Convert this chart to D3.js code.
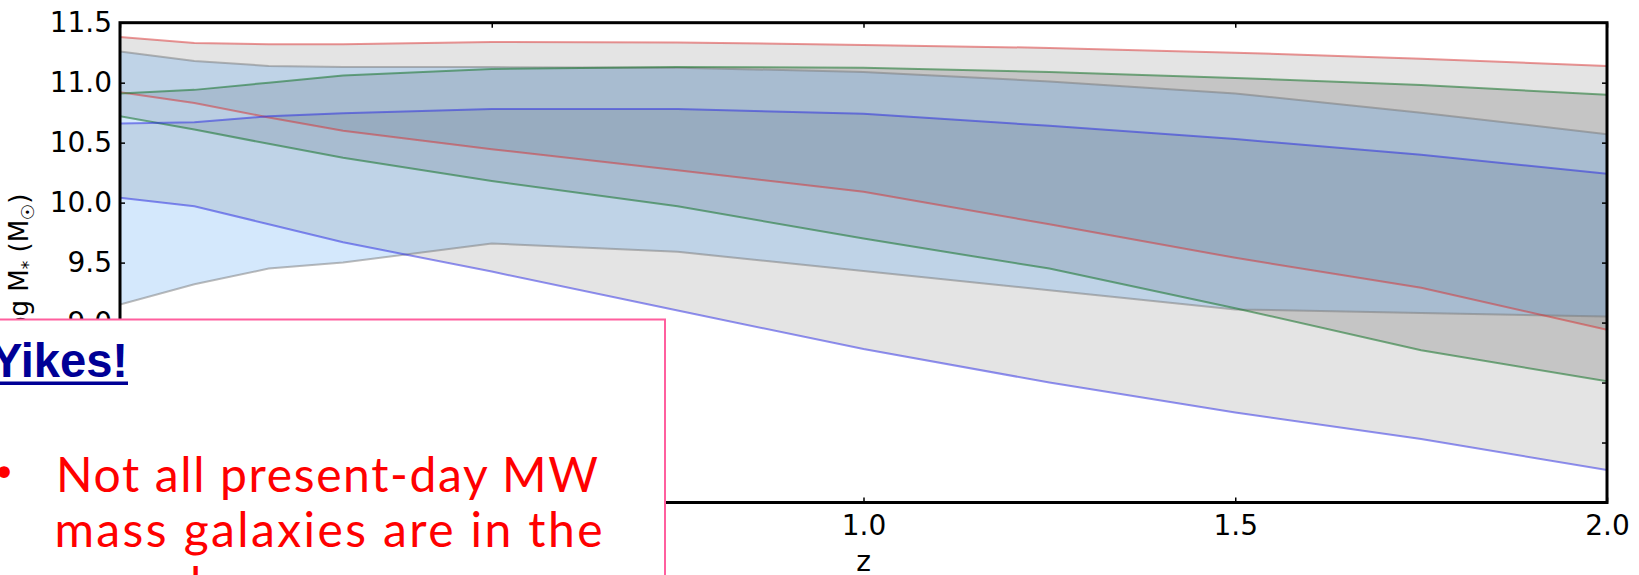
<!DOCTYPE html>
<html>
<head>
<meta charset="utf-8">
<script src="https://cdn.jsdelivr.net/npm/d3@7"></script>
<style>
  html, body { margin: 0; padding: 0; background: #fff; overflow: hidden; }
  svg { display: block; }
</style>
</head>
<body>
<svg id="chart" width="1639" height="575"></svg>
<script>
// Redshift grid shared by every band
const redshift = [0, 0.1, 0.2, 0.3, 0.5, 0.75, 1.0, 1.25, 1.5, 1.75, 2.0];

// Progenitor stellar-mass ranges (log M*), three selections
const redUpper   = [11.38, 11.33, 11.32, 11.32, 11.34, 11.335, 11.315, 11.29, 11.25, 11.20, 11.14];
const redLower   = [10.92, 10.83, 10.71, 10.60, 10.445, 10.27, 10.09, 9.82, 9.54, 9.29, 8.94];
const greenUpper = [10.91, 10.94, 11.00, 11.06, 11.115, 11.13, 11.125, 11.09, 11.04, 10.98, 10.90];
const greenLower = [10.72, 10.61, 10.49, 10.375, 10.18, 9.97, 9.70, 9.45, 9.12, 8.77, 8.51];
const blueUpper  = [10.66, 10.67, 10.72, 10.745, 10.78, 10.78, 10.74, 10.64, 10.53, 10.40, 10.24];
const blueLower  = [10.04, 9.97, 9.82, 9.67, 9.425, 9.10, 8.78, 8.50, 8.25, 8.03, 7.77];

// Sample selection window
const sampleUpper = [11.26, 11.18, 11.14, 11.13, 11.13, 11.125, 11.09, 11.01, 10.91, 10.75, 10.57];
const sampleLower = [9.15, 9.32, 9.45, 9.50, 9.66, 9.59, 9.43, 9.27, 9.11, 9.08, 9.05];

// Axis ticks
const xTicks = [0, 0.5, 1.0, 1.5, 2.0];
const yTicks = [7.5, 8.0, 8.5, 9.0, 9.5, 10.0, 10.5, 11.0, 11.5];

// Callout text
const noteTitle = "Yikes!";
const noteLines = ["Not all present-day MW", "mass galaxies are in the", "sample"];

const svg = d3.select("#chart");
const plot = { left: 120, right: 1607, top: 22.7, bottom: 502.5 };

const x = d3.scaleLinear().domain([0, 2]).range([plot.left, plot.right]);
const y = d3.scaleLinear().domain([7.5, 11.5]).range([plot.bottom, plot.top]);

svg.append("rect").attr("width", 1639).attr("height", 575).attr("fill", "#fff");

svg.append("defs").append("clipPath").attr("id", "plotClip")
  .append("rect")
  .attr("x", plot.left).attr("y", plot.top)
  .attr("width", plot.right - plot.left).attr("height", plot.bottom - plot.top);

const g = svg.append("g").attr("clip-path", "url(#plotClip)");

function band(lo, hi) {
  return redshift.map((z, i) => ({ z, lo: lo[i], hi: hi[i] }));
}
const area = d3.area().x(d => x(d.z)).y0(d => y(d.lo)).y1(d => y(d.hi));
const line = (key) => d3.line().x(d => x(d.z)).y(d => y(d[key]));

// Grey shaded progenitor ranges
const bands = [
  { data: band(redLower, redUpper),     op: 0.105, color: "rgba(215,45,45,0.5)" },
  { data: band(greenLower, greenUpper), op: 0.135, color: "rgba(20,115,40,0.55)" },
  { data: band(blueLower, blueUpper),   op: 0.105, color: "rgba(35,35,225,0.5)" }
];
bands.forEach(b => {
  g.append("path").datum(b.data).attr("d", area)
    .attr("fill", "#000").attr("fill-opacity", b.op);
});

// Blue selection window with grey edges
const sample = band(sampleLower, sampleUpper);
g.append("path").datum(sample).attr("d", area)
  .attr("fill", "#4c9ff2").attr("fill-opacity", 0.24);
["lo", "hi"].forEach(k => {
  g.append("path").datum(sample).attr("d", line(k))
    .attr("fill", "none").attr("stroke", "rgba(120,120,120,0.5)").attr("stroke-width", 2);
});

// Band boundary lines
bands.forEach(b => {
  ["lo", "hi"].forEach(k => {
    g.append("path").datum(b.data).attr("d", line(k))
      .attr("fill", "none").attr("stroke", b.color).attr("stroke-width", 2);
  });
});

// Axes (inward ticks on all four sides)
const fmt = d3.format(".1f");
const styleAxis = sel => {
  sel.select(".domain").remove();
  sel.selectAll(".tick line").attr("stroke", "#000").attr("stroke-width", 1.5);
  sel.selectAll("text").attr("font-family", "DejaVu Sans").attr("font-size", 28).attr("fill", "#000");
};
svg.append("g").attr("transform", `translate(0,${plot.bottom})`)
  .call(d3.axisBottom(x).tickValues(xTicks).tickFormat(fmt).tickSize(-5).tickPadding(13))
  .call(styleAxis);
svg.append("g").attr("transform", `translate(0,${plot.top})`)
  .call(d3.axisTop(x).tickValues(xTicks).tickFormat("").tickSize(-5))
  .call(styleAxis);
svg.append("g").attr("transform", `translate(${plot.left},0)`)
  .call(d3.axisLeft(y).tickValues(yTicks).tickFormat(fmt).tickSize(-5).tickPadding(8))
  .call(styleAxis);
svg.append("g").attr("transform", `translate(${plot.right},0)`)
  .call(d3.axisRight(y).tickValues(yTicks).tickFormat("").tickSize(-5))
  .call(styleAxis);

// Frame
svg.append("rect")
  .attr("x", plot.left).attr("y", plot.top)
  .attr("width", plot.right - plot.left).attr("height", plot.bottom - plot.top)
  .attr("fill", "none").attr("stroke", "#000").attr("stroke-width", 3);

// Axis labels
svg.append("text").attr("x", (plot.left + plot.right) / 2).attr("y", 571)
  .attr("text-anchor", "middle").attr("font-family", "DejaVu Sans").attr("font-size", 28)
  .text("z");

const ylab = svg.append("text")
  .attr("transform", `translate(28,${(plot.top + plot.bottom) / 2 + 4}) rotate(-90)`)
  .attr("text-anchor", "middle").attr("font-family", "DejaVu Sans").attr("font-size", 26);
ylab.append("tspan").text("log M");
ylab.append("tspan").attr("font-size", 17).attr("dy", 6).text("*");
ylab.append("tspan").attr("dy", -6).text(" (M");
ylab.append("tspan").attr("font-size", 18).attr("dy", 6).text("\u2609");
ylab.append("tspan").attr("dy", -6).text(")");

// Callout box
const note = svg.append("g");
note.append("rect")
  .attr("x", -10).attr("y", 319.5).attr("width", 675).attr("height", 300)
  .attr("fill", "#fff").attr("stroke", "#ff5f9e").attr("stroke-width", 2);
note.append("text")
  .attr("x", -9).attr("y", 377)
  .attr("font-family", "Liberation Sans").attr("font-weight", "bold").attr("font-size", 48)
  .attr("fill", "#000096")
  .attr("textLength", 137).attr("lengthAdjust", "spacingAndGlyphs")
  .text(noteTitle);
note.append("rect").attr("x", 0).attr("y", 381.5).attr("width", 128).attr("height", 3.5)
  .attr("fill", "#000096");
note.append("text")
  .attr("x", 4).attr("y", 487).attr("text-anchor", "middle")
  .attr("font-family", "DejaVu Sans").attr("font-size", 40).attr("fill", "#ff0000")
  .text("\u2022");
const lineX = [56, 54.5, 55];
const lineY = [492, 547, 602];
const lineW = [542, 548, null];
noteLines.forEach((t, i) => {
  const txt = note.append("text")
    .attr("x", lineX[i]).attr("y", lineY[i])
    .attr("font-family", "Lato").attr("font-size", 48).attr("fill", "#ff0000")
    .text(t);
  if (lineW[i]) txt.attr("textLength", lineW[i]).attr("lengthAdjust", "spacing");
  else txt.attr("letter-spacing", 6);
});
</script>
</body>
</html>
